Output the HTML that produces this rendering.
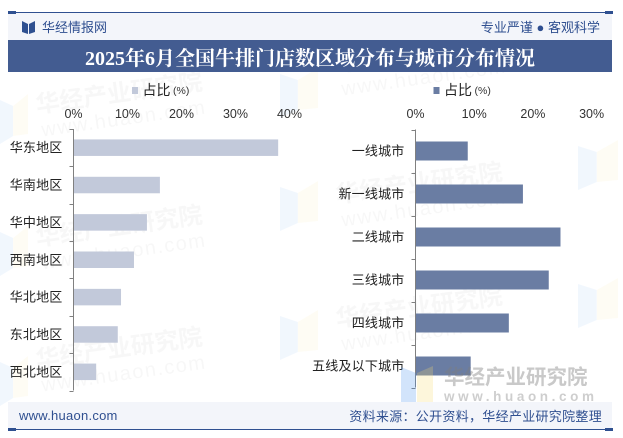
<!DOCTYPE html>
<html lang="zh">
<head>
<meta charset="utf-8">
<title>2025年6月全国牛排门店数区域分布与城市分布情况</title>
<style>
html,body{margin:0;padding:0;background:#fff;width:623px;height:438px;overflow:hidden}
svg{display:block}
text{font-family:"Liberation Sans","WenQuanYi Zen Hei","Noto Sans CJK SC",sans-serif}
</style>
</head>
<body>
<svg id="chart" width="623" height="438" viewBox="0 0 623 438" xmlns="http://www.w3.org/2000/svg">
  <g id="watermarks"></g>

  <rect x="8" y="13" width="604" height="27" fill="#f3f5fa"/>
  <rect x="8" y="12" width="604" height="1" fill="#2f5090"/>
  <rect x="8" y="11" width="8" height="3" fill="#2f5090"/>
  <rect x="605" y="11" width="8" height="3" fill="#2f5090"/>
  <path d="M22 21l6 3v10l-6-2zM35 21l-6 3v10l6-2z" fill="#2f5090"/>
  <text x="42" y="32" font-size="13" fill="#2f4f90">华经情报网</text>
  <text x="600" y="32" font-size="13" text-anchor="end" fill="#2f4f90">专业严谨 ● 客观科学</text>

  <rect x="8" y="40" width="604" height="32" fill="#435c91"/>
  <text x="310" y="65" font-size="20" font-weight="700" text-anchor="middle" fill="#ffffff" style='font-family:"Liberation Serif","Noto Serif CJK SC",serif'>2025年6月全国牛排门店数区域分布与城市分布情况</text>

  <g id="left-panel"></g>
  <g id="right-panel"></g>

  <g id="front-watermark"></g>

  <rect x="8" y="402" width="604" height="27" fill="#f3f5fa"/>
  <rect x="8" y="429" width="604" height="1" fill="#2f5090"/>
  <rect x="8" y="428" width="8" height="3" fill="#2f5090"/>
  <rect x="605" y="428" width="8" height="3" fill="#2f5090"/>
  <text x="19" y="420" font-size="13" letter-spacing="0.25" fill="#2f4f90">www.huaon.com</text>
  <text x="602" y="421" font-size="13" letter-spacing="0.3" text-anchor="end" fill="#2f4f90">资料来源：公开资料，华经产业研究院整理</text>
</svg>
<script>
var regionCategories = ['华东地区','华南地区','华中地区','西南地区','华北地区','东北地区','西北地区'];
var regionValues = [37.9, 16.0, 13.6, 11.2, 8.8, 8.2, 4.2];
var regionTicks = [0, 10, 20, 30, 40];

var cityCategories = ['一线城市','新一线城市','二线城市','三线城市','四线城市','五线及以下城市'];
var cityValues = [8.9, 18.3, 24.7, 22.7, 15.9, 9.4];
var cityTicks = [0, 10, 20, 30];

var seriesName = '占比';
var seriesUnit = '(%)';

var NS = 'http://www.w3.org/2000/svg';
function make(parent, tag, attrs, txt) {
  var el = document.createElementNS(NS, tag);
  for (var k in attrs) el.setAttribute(k, attrs[k]);
  if (txt !== undefined) el.textContent = txt;
  parent.appendChild(el);
  return el;
}

function drawPanel(cfg) {
  var g = document.getElementById(cfg.id);
  var xScale = function (v) { return cfg.x0 + v * cfg.pxPerUnit; };
  var band = (cfg.yBottom - cfg.yTop) / cfg.categories.length;

  var sw = make(g, 'rect', {x: cfg.legendX, y: 87, width: 6, height: 7, fill: cfg.color});
  
  
  var lt = make(g, 'text', {x: cfg.legendX + 10.5, y: 95, 'font-size': 14, fill: '#222'}, seriesName);
  
  
  var lu = make(g, 'text', {x: cfg.legendX + 41, y: 94, 'font-size': 10.5, fill: '#333'}, seriesUnit);
  
  

  cfg.ticks.forEach(function (t) {
    var tl = make(g, 'text', {x: xScale(t), y: 118, 'font-size': 12.5, 'text-anchor': 'middle', fill: '#333'}, t + '%');
    
    
  });

  cfg.values.forEach(function (v, i) {
    var cy = cfg.yTop + band * (i + 0.5);
    var bar = make(g, 'rect', {x: cfg.x0, y: cy - cfg.barH / 2, width: xScale(v) - cfg.x0, height: cfg.barH, fill: cfg.color});
    
    
    var lb = make(g, 'text', {x: cfg.x0 - 11, y: cy + 4.5, 'font-size': 13, 'letter-spacing': 0.2, 'text-anchor': 'end', fill: '#222'}, cfg.categories[i]);
    
    
  });

  var axis = make(g, 'line', {x1: cfg.x0, x2: cfg.x0, y1: cfg.yTop, y2: cfg.yBottom, stroke: '#808080', 'stroke-width': 1});
  
  
  for (var i = 0; i <= cfg.categories.length; i++) {
    var y = Math.round(cfg.yTop + band * i) + 0.5;
    var tk = make(g, 'line', {x1: cfg.x0 - 4, x2: cfg.x0, y1: y, y2: y, stroke: '#808080', 'stroke-width': 1});
    
    
  }
}

drawPanel({id: 'left-panel', categories: regionCategories, values: regionValues, ticks: regionTicks,
  x0: 73.5, pxPerUnit: 5.4, yTop: 129, yBottom: 390.5, barH: 16.5, color: '#c2c9da', legendX: 132});
drawPanel({id: 'right-panel', categories: cityCategories, values: cityValues, ticks: cityTicks,
  x0: 415.5, pxPerUnit: 5.87, yTop: 129.5, yBottom: 387.5, barH: 19, color: '#6a7da3', legendX: 433.5});

function watermark(parent, x, y, op) {
  var g = make(parent, 'g', {transform: 'translate(' + x + ' ' + y + ') rotate(-8)', opacity: op});
  
  
  make(g, 'text', {x: 0, y: 0, 'font-size': 24, 'font-weight': 700, fill: '#8a8a8a'}, '华经产业研究院');
  make(g, 'text', {x: 2, y: 24, 'font-size': 20, 'letter-spacing': 1.5, fill: '#8a8a8a'}, 'www.huaon.com');
}
function logoMark(parent, x, y, w) {
  var g = make(parent, 'g', {opacity: 0.07});
  
  
  var mid = x + w * 0.47, end = x + w;
  make(g, 'polygon', {points: x + ',' + y + ' ' + mid + ',' + (y + 6) + ' ' + mid + ',' + (y + 36) + ' ' + x + ',' + (y + 44), fill: '#4d94f0'});
  make(g, 'polygon', {points: mid + ',' + (y + 6) + ' ' + end + ',' + (y - 6) + ' ' + end + ',' + (y + 34) + ' ' + mid + ',' + (y + 36), fill: '#f6dc70'});
}
var wm = document.getElementById('watermarks');
[[37,113],[37,246],[37,368],[337,72],[337,203],[337,327]].forEach(function (p) { watermark(wm, p[0], p[1], 0.06); });
[[0,100,28],[0,232,28],[0,362,28],[280,74,38],[280,187,38],[280,316,38],[578,146,40],[578,284,40]].forEach(function (p) { logoMark(wm, p[0], p[1], p[2]); });

var fw = document.getElementById('front-watermark');
var fwGroup = make(fw, 'g', {});


make(fwGroup, 'polygon', {points: '401,367 416,373 416,404 401,410', fill: '#4d94f0', opacity: 0.25});
make(fwGroup, 'polygon', {points: '417,373 433,366 433,410 417,404', fill: '#f6dc70', opacity: 0.25});
make(fwGroup, 'text', {x: 444, y: 384, 'font-size': 20.5, 'font-weight': 700, fill: '#7f7f7f', opacity: 0.42}, '华经产业研究院');
make(fwGroup, 'text', {x: 444, y: 401, 'font-size': 13.5, 'font-weight': 700, 'letter-spacing': 3.6, fill: '#7f7f7f', opacity: 0.38}, 'www.huaon.com');
</script>
</body>
</html>
